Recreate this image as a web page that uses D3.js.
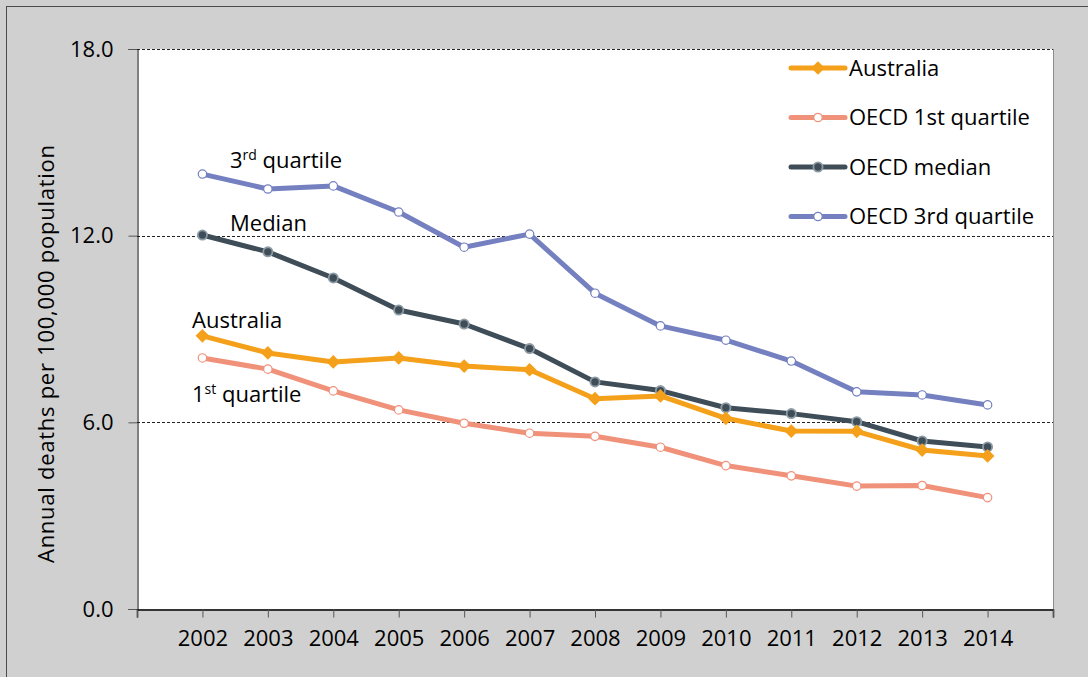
<!DOCTYPE html>
<html>
<head>
<meta charset="utf-8">
<script src="https://cdn.jsdelivr.net/npm/d3@7"></script>
<style>
  body { margin: 0; background: #d0d0d0; }
  svg text { font-family: "Open Sans", sans-serif; fill: #000; }
</style>
</head>
<body>
<svg id="chart" width="1088" height="677"></svg>
<script>
// years on the x axis
var years = [2002, 2003, 2004, 2005, 2006, 2007, 2008, 2009, 2010, 2011, 2012, 2013, 2014];

// annual deaths per 100,000 population
var australia   = [8.78, 8.23, 7.94, 8.07, 7.81, 7.69, 6.76, 6.85, 6.13, 5.72, 5.71, 5.11, 4.92];
var oecdQ1      = [8.07, 7.71, 7.01, 6.40, 5.97, 5.65, 5.55, 5.20, 4.61, 4.28, 3.95, 3.97, 3.58];
var oecdMedian  = [12.02, 11.48, 10.64, 9.61, 9.16, 8.37, 7.30, 7.02, 6.47, 6.28, 6.02, 5.40, 5.21];
var oecdQ3      = [13.98, 13.50, 13.60, 12.76, 11.63, 12.05, 10.15, 9.10, 8.64, 7.97, 6.98, 6.88, 6.56];

var yTicks = [0, 6, 12, 18];

var series = [
  {name: "Australia",          values: australia,  color: "#f5a01a", marker: "diamond"},
  {name: "OECD 1st quartile",  values: oecdQ1,     color: "#f0917a", marker: "open"},
  {name: "OECD median",        values: oecdMedian, color: "#3e4d57", marker: "dot"},
  {name: "OECD 3rd quartile",  values: oecdQ3,     color: "#7480c0", marker: "open"}
];

var svg = d3.select("#chart");
var fs = "22px";

// outer frame
svg.append("rect")
  .attr("x", 6.5).attr("y", 6.5)
  .attr("width", 1100).attr("height", 700)
  .attr("fill", "#d0d0d0")
  .attr("stroke", "#4a4a4a");

var plotL = 137, plotR = 1053, plotT = 49, plotB = 609;

var x = d3.scalePoint()
  .domain(years)
  .range([plotL, plotR])
  .padding(1);

var y = d3.scaleLinear()
  .domain([0, 18])
  .range([plotB, plotT]);

// plot area
svg.append("rect")
  .attr("x", plotL).attr("y", plotT)
  .attr("width", plotR - plotL).attr("height", plotB - plotT)
  .attr("fill", "#fff");

svg.append("line")
  .attr("x1", plotR + 0.5).attr("x2", plotR + 0.5)
  .attr("y1", plotT).attr("y2", plotB)
  .attr("stroke", "#8c8c8c");

// dashed gridlines
svg.append("g")
  .selectAll("line")
  .data(yTicks.filter(function(d) { return d > 0; }))
  .join("line")
  .attr("x1", plotL).attr("x2", plotR)
  .attr("y1", function(d) { return Math.round(y(d)) + 0.5; })
  .attr("y2", function(d) { return Math.round(y(d)) + 0.5; })
  .attr("stroke", "#222")
  .attr("stroke-dasharray", "3,2");

// y axis
var yAxis = svg.append("g")
  .attr("transform", "translate(" + (plotL + 0.5) + ",0)")
  .call(d3.axisLeft(y).tickValues(yTicks).tickSize(9).tickPadding(15)
    .tickFormat(d3.format(".1f")));
yAxis.select(".domain").attr("stroke", "#000");
yAxis.selectAll(".tick line").attr("stroke", "#555");
yAxis.selectAll("text").style("font-size", fs).attr("fill", "#000").attr("font-family", null);

// x axis: ticks on each year plus both ends
var xAxis = svg.append("g")
  .attr("transform", "translate(0," + (plotB + 0.5) + ")")
  .call(d3.axisBottom(x).tickSizeOuter(0).tickSize(8).tickPadding(13));
xAxis.select(".domain").attr("stroke", "#000").attr("stroke-width", 1.5);
xAxis.selectAll(".tick line").attr("stroke", "#555");
xAxis.selectAll("text").style("font-size", fs).attr("fill", "#000").attr("font-family", null);
xAxis.selectAll("line.end")
  .data([plotL, plotR])
  .join("line")
  .attr("class", "end")
  .attr("x1", function(d) { return d + 0.5; })
  .attr("x2", function(d) { return d + 0.5; })
  .attr("y1", 0).attr("y2", 8)
  .attr("stroke", "#555");

// y axis title
svg.append("text")
  .attr("transform", "translate(54,354) rotate(-90)")
  .attr("text-anchor", "middle")
  .attr("textLength", 418)
  .attr("lengthAdjust", "spacing")
  .style("font-size", fs)
  .text("Annual deaths per 100,000 population");

var line = d3.line()
  .x(function(d, i) { return x(years[i]); })
  .y(function(d) { return y(d); });

function drawMarker(g, s, cx, cy) {
  if (s.marker == "diamond") {
    g.append("path")
      .attr("d", d3.symbol().type(d3.symbolDiamond2).size(120)())
      .attr("transform", "translate(" + cx + "," + cy + ")")
      .attr("fill", s.color);
  } else if (s.marker == "dot") {
    g.append("circle")
      .attr("cx", cx).attr("cy", cy).attr("r", 4.6)
      .attr("fill", s.color)
      .attr("stroke", "#8d9ba5")
      .attr("stroke-width", 1.8);
  } else {
    g.append("circle")
      .attr("cx", cx).attr("cy", cy).attr("r", 4.2)
      .attr("fill", "#fff")
      .attr("stroke", s.color)
      .attr("stroke-width", 1.2);
  }
}

// series, drawn 3rd quartile first so Australia sits on top
var plot = svg.append("g");
series.slice().reverse().forEach(function(s) {
  var g = plot.append("g");
  g.append("path")
    .datum(s.values)
    .attr("fill", "none")
    .attr("stroke", s.color)
    .attr("stroke-width", 5)
    .attr("stroke-linejoin", "round")
    .attr("d", line);
  s.values.forEach(function(v, i) {
    drawMarker(g, s, x(years[i]), y(v));
  });
});

// legend
var legend = svg.append("g");
series.forEach(function(s, i) {
  var ly = 68 + i * 49.5;
  var g = legend.append("g");
  g.append("line")
    .attr("x1", 791).attr("x2", 845)
    .attr("y1", ly).attr("y2", ly)
    .attr("stroke", s.color)
    .attr("stroke-width", 5)
    .attr("stroke-linecap", "round");
  drawMarker(g, s, 818, ly);
  g.append("text")
    .attr("x", 849).attr("y", ly + 7.5)
    .style("font-size", fs)
    .text(s.name);
});

// labels in the plot
var notes = [
  {x: 230, y: 168, main: "3", sup: "rd", rest: " quartile"},
  {x: 230, y: 231, main: "Median"},
  {x: 192, y: 328, main: "Australia"},
  {x: 192, y: 402, main: "1", sup: "st", rest: " quartile"}
];
notes.forEach(function(n) {
  var t = svg.append("text")
    .attr("x", n.x).attr("y", n.y)
    .style("font-size", fs)
    .text(n.main);
  if (n.sup) {
    t.append("tspan").attr("dy", -8).style("font-size", "14px").text(n.sup);
    t.append("tspan").attr("dy", 8).text(n.rest);
  }
});
</script>
</body>
</html>
